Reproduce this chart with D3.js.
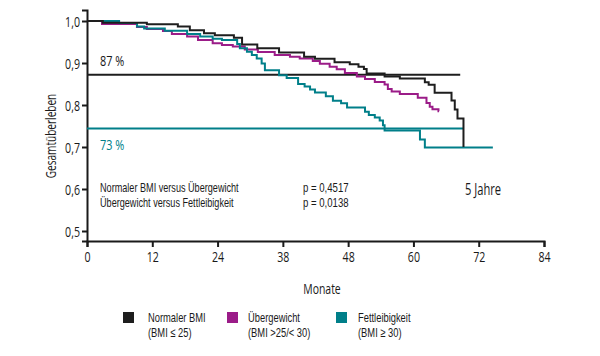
<!DOCTYPE html>
<html><head><meta charset="utf-8">
<script src="https://cdn.jsdelivr.net/npm/d3@7"></script>
<style>
body{margin:0;background:#fff;}
svg text{font-family:"Open Sans","Noto Sans",sans-serif;fill:#1a1a1a;}
svg text.leg{font-family:"Liberation Sans",Arial,sans-serif;}
</style></head>
<body><svg id="c" width="600" height="356"></svg>
<script>
// Kaplan-Meier step data: [month, survival]
const normalBMI = [[0,1.0],[2.9,0.996],[11.0,0.992],[16.7,0.987],[18.9,0.978],[21.5,0.971],[23.5,0.966],[27.0,0.960],[28.5,0.944],[31.3,0.935],[35.3,0.925],[39.9,0.915],[41.9,0.910],[45.5,0.902],[48.3,0.897],[49.9,0.891],[50.9,0.886],[51.4,0.875],[54.7,0.868],[57.5,0.863],[62.1,0.854],[62.8,0.848],[63.9,0.829],[67.0,0.811],[67.6,0.789],[68.1,0.768],[69.2,0.700]];
const uebergewicht = [[0,1.0],[2.76,0.993],[9.18,0.986],[11.0,0.981],[13.96,0.976],[15.6,0.969],[18.4,0.963],[20.4,0.955],[23.1,0.947],[24.8,0.943],[26.8,0.939],[29.0,0.932],[31.4,0.926],[34.5,0.919],[37.3,0.915],[39.1,0.911],[41.5,0.905],[42.8,0.898],[44.6,0.891],[45.9,0.885],[47.4,0.876],[49.6,0.868],[51.1,0.862],[52.9,0.855],[54.7,0.849],[55.3,0.838],[56.0,0.832],[57.5,0.826],[60.8,0.817],[62.4,0.805],[63.0,0.796],[63.5,0.790],[64.6,0.785],[64.7,0.785]];
const fettleibigkeit = [[0,1.0],[5.9,0.995],[9.2,0.987],[10.5,0.982],[14.3,0.977],[18.4,0.969],[20.8,0.963],[23.1,0.958],[24.8,0.955],[27.6,0.945],[28.1,0.935],[29.4,0.927],[30.3,0.919],[31.2,0.911],[32.1,0.899],[32.7,0.883],[35.3,0.871],[36.7,0.864],[38.8,0.850],[40.0,0.844],[41.0,0.837],[41.9,0.830],[43.9,0.821],[45.2,0.810],[46.7,0.804],[47.8,0.794],[51.1,0.784],[51.8,0.776],[52.9,0.770],[53.8,0.763],[54.4,0.752],[54.7,0.739],[61.2,0.718],[62.1,0.699],[74.6,0.699]];
// 5-year survival reference lines
const refValues = [0.872, 0.744];
const refEnds = [68.6, 69.2];
const refLabels = ["87 %", "73 %"];
const xTicks = [0,12,24,36,48,60,72,84];
const xTickLabels = ["0","12","24","38","48","60","72","84"];
const yTicks = [0.5,0.6,0.7,0.8,0.9,1.0];
const seriesNames = [["Normaler BMI","(BMI \u2264 25)"],["\u00dcbergewicht","(BMI >25/< 30)"],["Fettleibigkeit","(BMI \u2265 30)"]];
const statLabels = ["Normaler BMI versus \u00dcbergewicht","\u00dcbergewicht versus Fettleibigkeit"];
const pValues = ["p = 0,4517","p = 0,0138"];

const colors = ["#1e1e1e", "#9b1c88", "#007f89"];
const K = 0.72; // horizontal condensing of text
const svg = d3.select("#c");
const x = d3.scaleLinear().domain([0,84]).range([87,544]);
const y = d3.scaleLinear().domain([0.4762,1.0262]).range([241,10]);

function txt(px, py, s, size, opt={}) {
  const k = opt.k || K;
  const t = svg.append("text")
    .attr("transform", `translate(${px},${py})` + (opt.rot ? ` rotate(${opt.rot})` : "") + ` scale(${k},1)`)
    .attr("font-size", size)
    .attr("text-anchor", opt.anchor || "start")
    .text(s);
  if (opt.cls) t.attr("class", opt.cls);
  if (opt.fill) t.style("fill", opt.fill);
  return t;
}

// axes
const TK = 0.76;
const gx = svg.append("g").attr("transform","translate(0,241)")
  .call(d3.axisBottom(x).tickValues(xTicks).tickFormat((d,i)=>xTickLabels[i]).tickSizeOuter(0).tickSize(6));
const gy = svg.append("g").attr("transform","translate(87,0)")
  .call(d3.axisLeft(y).tickValues(yTicks).tickFormat(d=>d3.format(".1f")(d).replace(".",",")).tickSizeOuter(0).tickSize(5));
[gx,gy].forEach(g=>{
  g.select(".domain").attr("stroke","#1a1a1a").attr("stroke-width",2);
  g.selectAll(".tick line").attr("stroke","#1a1a1a").attr("stroke-width",2);
  g.selectAll(".tick text").attr("font-size",14).attr("fill","#1a1a1a").attr("font-family",null);
});
gx.selectAll(".tick text").attr("y",21).attr("dy",null).attr("transform",`scale(${TK},1)`);
gy.selectAll(".tick text").attr("x",-7/TK).attr("dy","0.36em").attr("transform",`scale(${TK},1)`);

// reference lines
refValues.forEach((v,i)=>{
  svg.append("line").attr("x1",x(0)).attr("x2",x(refEnds[i])).attr("y1",y(v)).attr("y2",y(v))
    .attr("stroke",colors[i===0?0:2]).attr("stroke-width",2);
});
txt(100, 66, refLabels[0], 14, {k:0.78});
txt(100, 150, refLabels[1], 14, {k:0.78, fill:colors[2]});

// curves
const line = d3.line().x(d=>x(d[0])).y(d=>y(d[1])).curve(d3.curveStepAfter);
[[uebergewicht,colors[1]],[fettleibigkeit,colors[2]],[normalBMI,colors[0]]].forEach(([data,c])=>{
  svg.append("path").datum(data).attr("d",line).attr("fill","none").attr("stroke",c).attr("stroke-width",2);
});

// stats text
statLabels.forEach((t,i)=>{
  txt(100, 192+i*15, t, 12, {cls:"leg", k:0.76});
  txt(303, 192+i*15, pValues[i], 12, {cls:"leg", k:0.8});
});
txt(465, 195, "5 Jahre", 15.5);

// axis titles
txt(322, 294, "Monate", 14.5, {anchor:"middle"});
txt(56, 136, "Gesamt\u00fcberleben", 14, {anchor:"middle", rot:-90});

// legend
const legX = [123,227,336];
const legTX = [148,248,358];
seriesNames.forEach((n,i)=>{
  svg.append("rect").attr("x",legX[i]).attr("y",312).attr("width",11).attr("height",11).attr("fill",colors[i]);
  txt(legTX[i], 322, n[0], 13, {cls:"leg", k:0.72});
  txt(legTX[i], 337, n[1], 13, {cls:"leg", k:0.72});
});
</script></body></html>
